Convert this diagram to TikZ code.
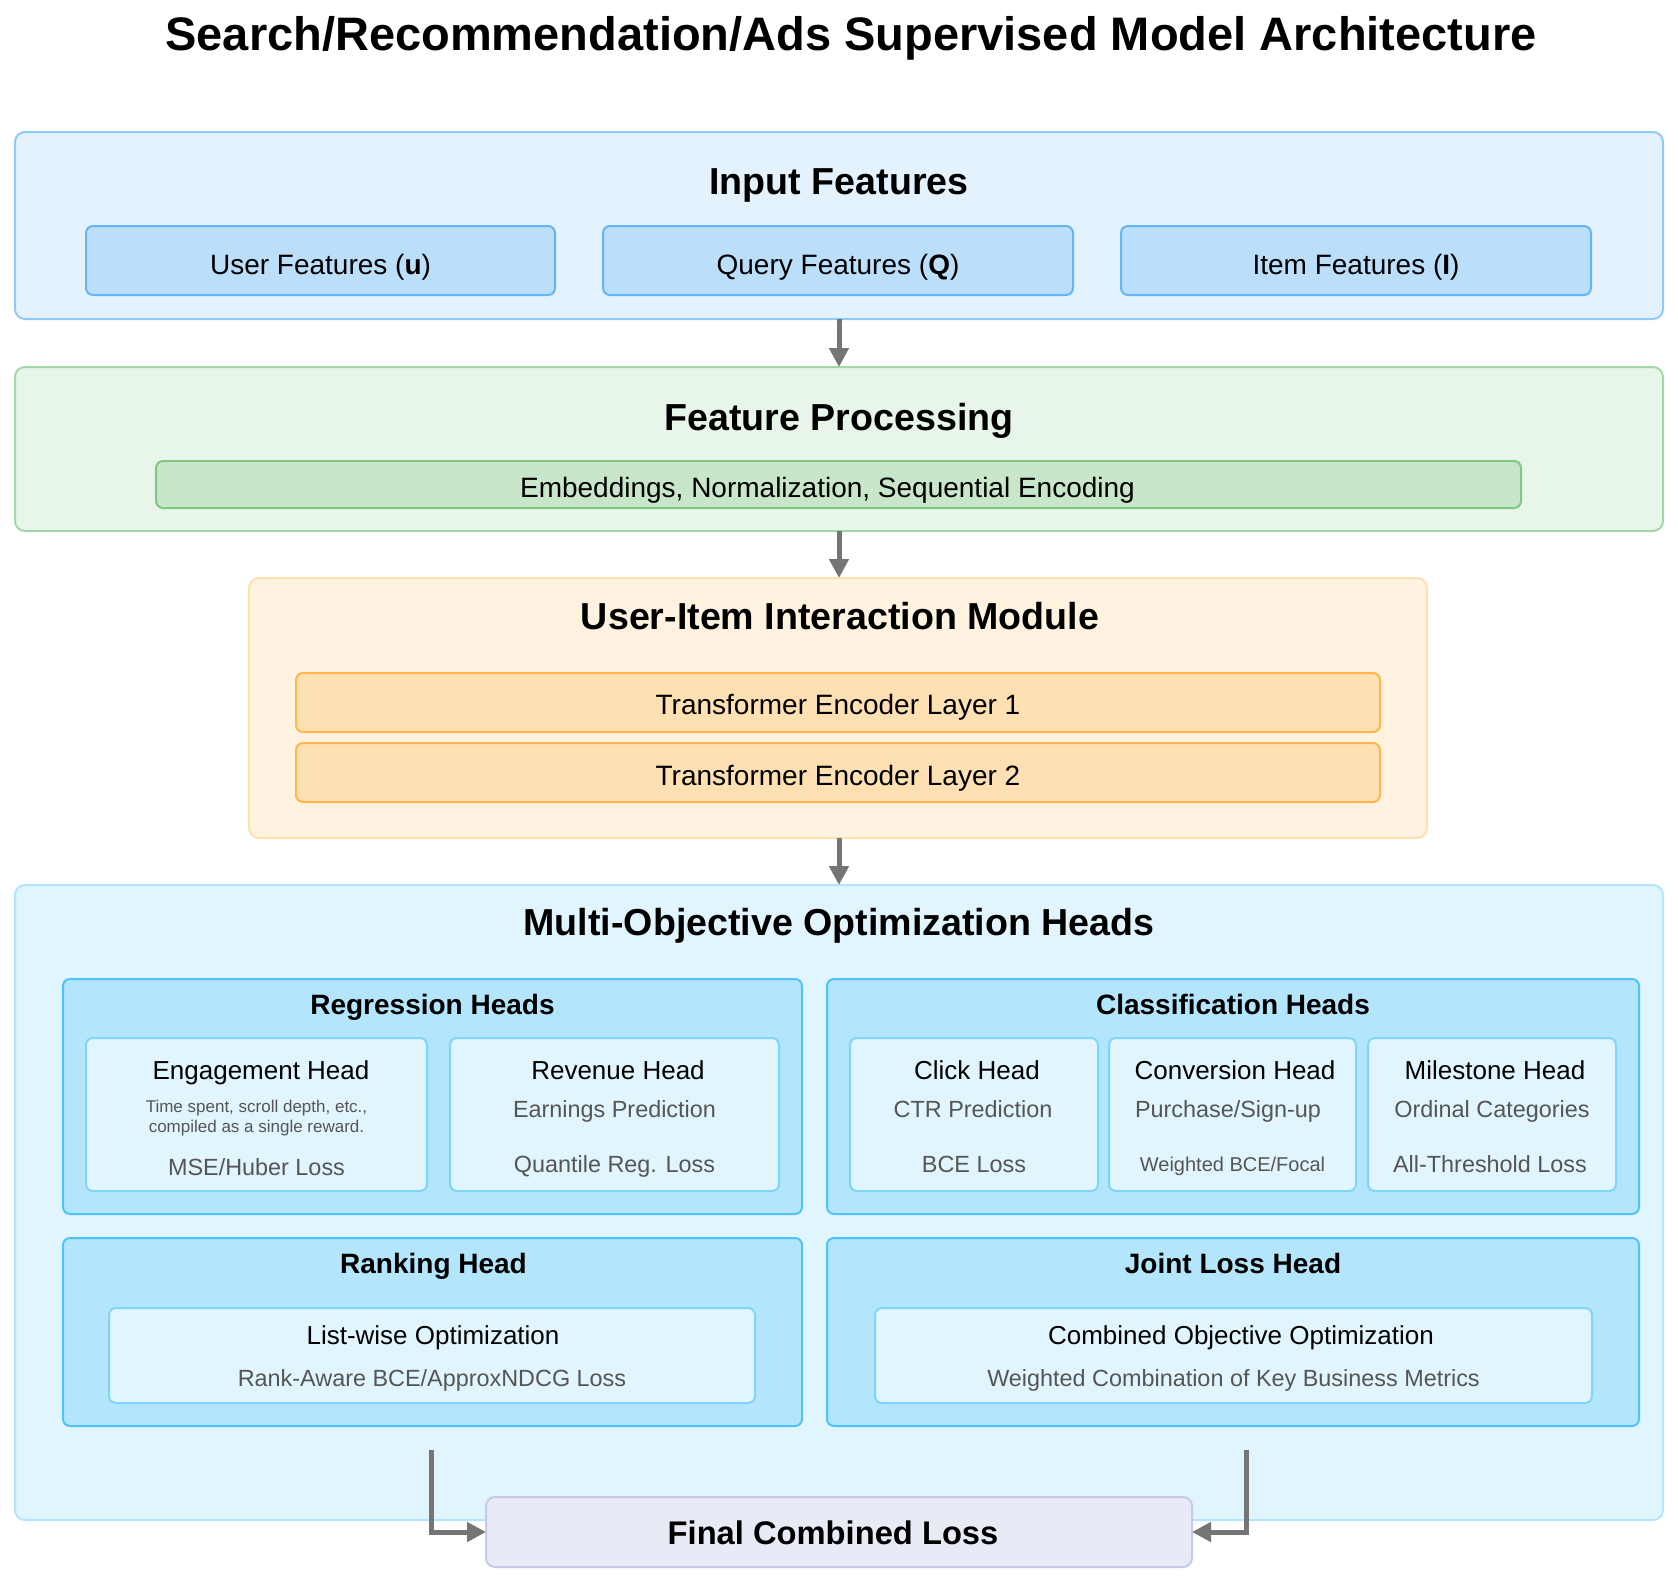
\documentclass[tikz,border=0pt]{standalone}
\usepackage{fontspec}
\setmainfont{Liberation Sans}
\usetikzlibrary{arrows.meta}
\definecolor{inO}{HTML}{E3F2FD}\definecolor{inOd}{HTML}{90CAF9}
\definecolor{inI}{HTML}{BBDEFB}\definecolor{inId}{HTML}{64B5F6}
\definecolor{fpO}{HTML}{E8F5E9}\definecolor{fpOd}{HTML}{A5D6A7}
\definecolor{fpI}{HTML}{C8E6C9}\definecolor{fpId}{HTML}{81C784}
\definecolor{uiO}{HTML}{FFF3E0}\definecolor{uiOd}{HTML}{FFE0B2}
\definecolor{uiI}{HTML}{FFE0B2}\definecolor{uiId}{HTML}{FFB74D}
\definecolor{moO}{HTML}{E1F5FE}\definecolor{moOd}{HTML}{B3E5FC}
\definecolor{moG}{HTML}{B3E5FC}\definecolor{moGd}{HTML}{4FC3F7}
\definecolor{moH}{HTML}{E1F5FE}\definecolor{moHd}{HTML}{81D4FA}
\definecolor{finF}{HTML}{E8EAF6}\definecolor{finD}{HTML}{C5CAE9}
\definecolor{arrC}{HTML}{757575}
\definecolor{descC}{HTML}{555555}
\begin{document}
\begin{tikzpicture}[x=1pt,y=-1pt,
  every node/.style={inner sep=0pt,outer sep=0pt},
  obox/.style={rounded corners=10pt,line width=2pt},
  ibox/.style={rounded corners=7pt,line width=2pt},
  tx/.style={anchor=base},
  ttl/.style={tx,font=\fontsize{47}{56}\selectfont\bfseries},
  sec/.style={tx,font=\fontsize{37.6}{45}\selectfont\bfseries},
  grp/.style={tx,font=\fontsize{28}{34}\selectfont\bfseries},
  body/.style={tx,font=\fontsize{28}{34}\selectfont},
  hd/.style={tx,font=\fontsize{26}{31}\selectfont},
  desc/.style={tx,font=\fontsize{23.4}{28}\selectfont,text=descC},
  sml/.style={tx,font=\fontsize{17}{20}\selectfont,text=descC},
  wsml/.style={tx,font=\fontsize{20}{24}\selectfont,text=descC},
  fin/.style={tx,font=\fontsize{32.7}{39}\selectfont\bfseries},
  arr/.style={draw=arrC,line width=5pt,-{Triangle[length=19pt,width=19pt]}}
]
\useasboundingbox (0,0) rectangle (1678,1590);
\fill[white] (0,0) rectangle (1678,1590);

\node[ttl] (title) at (851,50) {Search/Recommendation/Ads Supervised Model Architecture};

% Input features
\node[obox,fill=inO,draw=inOd,minimum width=1648pt,minimum height=187pt] (inp) at (839,225.5) {};
\node[sec] (inpT) at (839,194) {Input Features};
\node[ibox,fill=inI,draw=inId,minimum width=469pt,minimum height=69pt] (user) at (320.5,260.5) {};
\node[ibox,fill=inI,draw=inId,minimum width=470pt,minimum height=69pt] (query) at (838,260.5) {};
\node[ibox,fill=inI,draw=inId,minimum width=470pt,minimum height=69pt] (item) at (1356,260.5) {};
\node[body] (userT) at (320.5,274) {User Features (\textbf{u})};
\node[body] (queryT) at (838,274) {Query Features (\textbf{Q})};
\node[body] (itemT) at (1356,274) {Item Features (\textbf{I})};

% Feature processing
\node[obox,fill=fpO,draw=fpOd,minimum width=1648pt,minimum height=164pt] (fp) at (839,449) {};
\node[sec] (fpT) at (839,430) {Feature Processing};
\node[ibox,fill=fpI,draw=fpId,minimum width=1365pt,minimum height=47pt] (emb) at (838.5,484.5) {};
\node[body] (embT) at (827.5,497) {Embeddings, Normalization, Sequential Encoding};

% User-item interaction
\node[obox,fill=uiO,draw=uiOd,minimum width=1178pt,minimum height=260pt] (ui) at (838,708) {};
\node[sec] (uiT) at (840,629) {User-Item Interaction Module};
\node[ibox,fill=uiI,draw=uiId,minimum width=1084pt,minimum height=59pt] (l1) at (838,702.5) {};
\node[ibox,fill=uiI,draw=uiId,minimum width=1084pt,minimum height=59pt] (l2) at (838,772.5) {};
\node[body] (l1T) at (838,714) {Transformer Encoder Layer 1};
\node[body] (l2T) at (838,785) {Transformer Encoder Layer 2};

% Multi-objective heads
\node[obox,fill=moO,draw=moOd,minimum width=1648pt,minimum height=635pt] (mo) at (839,1202.5) {};
\node[sec] (moT) at (839,935) {Multi-Objective Optimization Heads};

\node[ibox,fill=moG,draw=moGd,minimum width=739pt,minimum height=235pt] (reg) at (432.5,1096.5) {};
\node[grp] (regT) at (432.5,1014) {Regression Heads};
\node[ibox,fill=moH,draw=moHd,minimum width=341pt,minimum height=153pt] (eng) at (256.5,1114.5) {};
\node[ibox,fill=moH,draw=moHd,minimum width=329pt,minimum height=153pt] (rev) at (614.5,1114.5) {};
\node[hd] (engT) at (261,1079) {Engagement Head};
\node[sml] (engD1) at (256.5,1112) {Time spent, scroll depth, etc.,};
\node[sml] (engD2) at (256.5,1132) {compiled as a single reward.};
\node[desc] (engL) at (256.5,1175) {MSE/Huber Loss};
\node[hd] (revT) at (618,1079) {Revenue Head};
\node[desc] (revD) at (614.5,1117) {Earnings Prediction};
\node[desc] (revL) at (614.5,1172) {Quantile Reg. Loss};

\node[ibox,fill=moG,draw=moGd,minimum width=812pt,minimum height=235pt] (cls) at (1233,1096.5) {};
\node[grp] (clsT) at (1233,1014) {Classification Heads};
\node[ibox,fill=moH,draw=moHd,minimum width=248pt,minimum height=153pt] (click) at (974,1114.5) {};
\node[ibox,fill=moH,draw=moHd,minimum width=247pt,minimum height=153pt] (conv) at (1232.5,1114.5) {};
\node[ibox,fill=moH,draw=moHd,minimum width=248pt,minimum height=153pt] (mile) at (1492,1114.5) {};
\node[hd] (clickT) at (977,1079) {Click Head};
\node[desc] (clickD) at (973,1117) {CTR Prediction};
\node[desc] (clickL) at (974,1172) {BCE Loss};
\node[hd] (convT) at (1235,1079) {Conversion Head};
\node[desc] (convD) at (1228,1117) {Purchase/Sign-up};
\node[wsml] (convL) at (1232.5,1171) {Weighted BCE/Focal};
\node[hd] (mileT) at (1495,1079) {Milestone Head};
\node[desc] (mileD) at (1492,1117) {Ordinal Categories};
\node[desc] (mileL) at (1490,1172) {All-Threshold Loss};

\node[ibox,fill=moG,draw=moGd,minimum width=739pt,minimum height=188pt] (rank) at (432.5,1332) {};
\node[grp] (rankT) at (433.5,1273) {Ranking Head};
\node[ibox,fill=moH,draw=moHd,minimum width=646pt,minimum height=95pt] (lw) at (432,1355.5) {};
\node[hd] (lwT) at (433,1344) {List-wise Optimization};
\node[desc] (lwD) at (432,1386) {Rank-Aware BCE/ApproxNDCG Loss};

\node[ibox,fill=moG,draw=moGd,minimum width=812pt,minimum height=188pt] (joint) at (1233,1332) {};
\node[grp] (jointT) at (1233,1273) {Joint Loss Head};
\node[ibox,fill=moH,draw=moHd,minimum width=717pt,minimum height=95pt] (co) at (1233.5,1355.5) {};
\node[hd] (coT) at (1241,1344) {Combined Objective Optimization};
\node[desc] (coD) at (1233.5,1386) {Weighted Combination of Key Business Metrics};

% Final loss
\node[ibox,rounded corners=9pt,fill=finF,draw=finD,minimum width=706pt,minimum height=70pt] (final) at (839,1532) {};
\node[fin] (finalT) at (833,1544) {Final Combined Loss};

% Arrows
\draw[arr] (inp.south) -- (fp.north);
\draw[arr] (fp.south) -- (fp.south |- ui.north);
\draw[arr] (fp.south |- ui.south) -- (fp.south |- mo.north);
\coordinate (ls) at (431.5,1450);
\coordinate (rs) at (1246.5,1450);
\draw[arr] (ls) |- (final.west);
\draw[arr] (rs) |- (final.east);
\end{tikzpicture}
\end{document}
